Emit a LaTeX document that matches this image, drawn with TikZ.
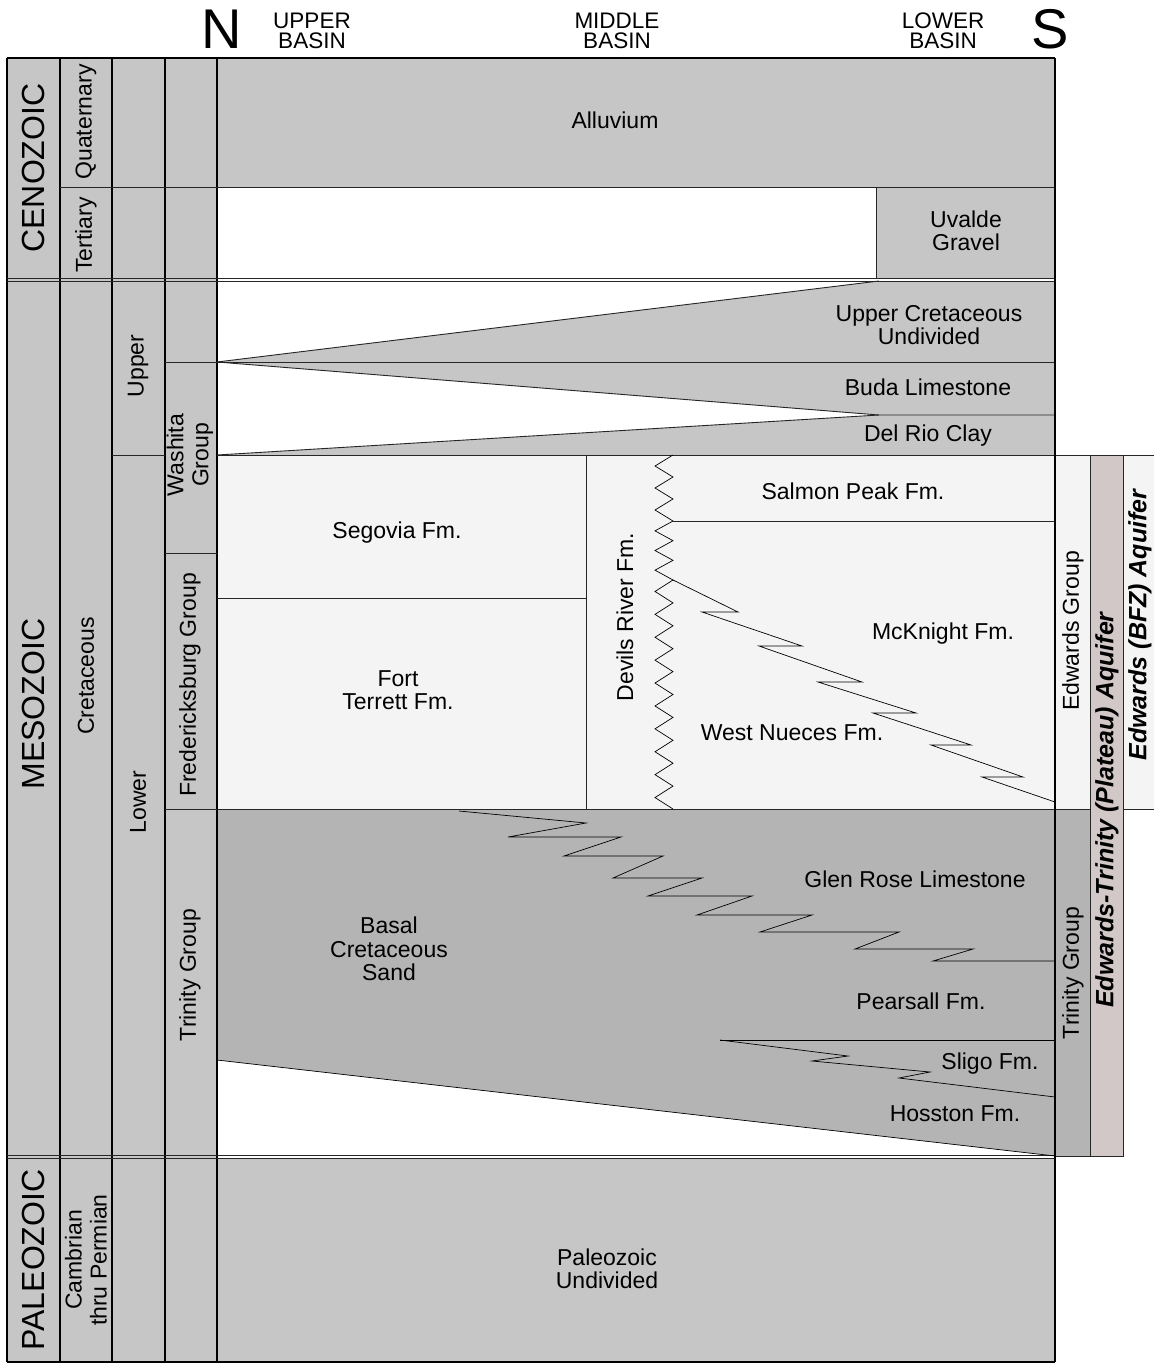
\documentclass[tikz,border=0pt]{standalone}
\usepackage{fontspec}
\setmainfont{Liberation Sans}
\definecolor{lg}{HTML}{C6C6C6}
\definecolor{dg}{HTML}{B4B4B4}
\definecolor{wl}{HTML}{F4F4F4}
\definecolor{pk}{HTML}{D2C8C8}
\tikzset{
  frame/.style={draw=black, line width=1.3pt},
  fine/.style={draw=black!85, line width=0.9pt},
  lbl/.style={font=\fontsize{23}{23.3}\selectfont, align=center, inner sep=0pt},
  vlbl/.style={font=\fontsize{23}{25}\selectfont, align=center, inner sep=0pt, rotate=90},
  era/.style={font=\fontsize{32}{32}\selectfont, inner sep=0pt, rotate=90},
  aq/.style={font=\fontsize{25}{25}\selectfont\bfseries\itshape, inner sep=0pt, rotate=90},
  hdr/.style={font=\fontsize{22.5}{20.5}\selectfont, align=center, inner sep=0pt},
  compass/.style={font=\fontsize{56}{56}\selectfont, inner sep=0pt},
}
\begin{document}
\begin{tikzpicture}[x=1pt,y=-1pt]
\useasboundingbox[fill=white] (0,0) rectangle (1154,1365);

% ---------- fills ----------
\fill[lg] (7,58) rectangle (217,1362);
\fill[lg] (217,58) rectangle (1055,187);
\fill[lg] (876,187) rectangle (1055,278);
\fill[lg] (217,362) -- (879,281) -- (1055,281) -- (1055,362) -- cycle;
\fill[lg] (217,362) -- (1055,362) -- (1055,415) -- (879,415) -- cycle;
\fill[lg] (217,455) -- (879,415) -- (1055,415) -- (1055,455) -- cycle;
\fill[wl] (217,455) rectangle (1055,809);
\fill[dg] (217,809) -- (1055,809) -- (1055,1156) -- (217,1060) -- cycle;
\fill[lg] (217,1158) rectangle (1055,1362);

% ---------- right columns ----------
\filldraw[fill=wl, fine] (1055,455) rectangle (1090,809);
\filldraw[fill=dg, fine] (1055,809) rectangle (1090,1156);
\filldraw[fill=pk, fine] (1090,455) rectangle (1123,1156);
\fill[wl] (1123,455) rectangle (1154,809);
\draw[fine] (1154,455) -- (1123,455) -- (1123,809) -- (1154,809);

% ---------- column frame ----------
\foreach \x in {7,60,112,217} \draw[frame, line width=1.1pt] (\x,58) -- (\x,1362);
\draw[frame, line width=1.7pt] (165,58) -- (165,1362);
\draw[frame] (7,58) -- (1055,58);
\draw[frame] (7,1362) -- (1055,1362);
\draw[fine] (60,187) -- (1055,187);
\draw[fine] (7,278) -- (1055,278);
\draw[fine] (7,281) -- (1055,281);
\draw[fine] (7,1155) -- (1055,1155);
\draw[fine] (7,1158) -- (1055,1158);
\draw[fine] (165,362) -- (217,362);
\draw[fine] (112,455) -- (165,455);
\draw[fine] (165,553) -- (217,553);
\draw[fine] (165,809) -- (217,809);

% ---------- formation boundaries ----------
\draw[fine] (876,187) -- (876,278);
\draw[fine] (217,362) -- (879,281);
\draw[fine] (217,362) -- (1055,362);
\draw[fine] (217,362) -- (879,415) -- (1055,415);
\draw[fine] (217,455) -- (879,415);
\draw[fine] (217,455) -- (1055,455);
\draw[fine] (217,598) -- (586,598);
\draw[fine] (586,455) -- (586,809);
\draw[fine] (217,809) -- (1055,809);
% Devils River zigzag
\draw[line width=0.7pt] (673,455)
  foreach \i in {1,...,3} { -- (655,{455+22*\i-11}) -- (673,{455+22*\i}) }
  foreach \i in {1,...,3} { -- (655,{521+19.67*\i-9.83}) -- (673,{521+19.67*\i}) }
  foreach \i in {1,...,10} { -- (655,{580+22.9*\i-11.45}) -- (673,{580+22.9*\i}) };
\draw[fine] (673,521) -- (1055,521);
% McKnight / West Nueces
\draw[line width=0.7pt] (673,580) -- (738,612) -- (702,612) -- (802,646) -- (759,646)
  -- (862,682) -- (818,682) -- (916,713) -- (873,713) -- (971,745) -- (931,745)
  -- (1023,777) -- (982,777) -- (1055,802);
% Glen Rose / Basal sand
\draw[line width=0.7pt] (459,811) -- (586,823) -- (508,837) -- (621,837) -- (564,856)
  -- (663,856) -- (613,878) -- (702,878) -- (648,896) -- (752,896) -- (697,915)
  -- (812,915) -- (760,932) -- (899,932) -- (855,949) -- (973,949) -- (933,961) -- (1055,961);
% Pearsall / Sligo
\draw[line width=0.7pt] (720,1040) -- (1055,1040);
\draw[line width=0.7pt] (720,1040) -- (848,1056) -- (812,1061) -- (930,1072) -- (899,1078) -- (1055,1097);
% Hosston base
\draw[line width=0.7pt] (217,1060) -- (1055,1156);
% main right border
\draw[frame, line width=1.7pt] (1055,58) -- (1055,1362);

% ---------- header ----------
\node[compass] (north) at (222,29) {N};
\node[compass] (south) at (1050,29) {S};
\node[hdr] (upper) at (312,31) {UPPER\\BASIN};
\node[hdr] (middle) at (617,31) {MIDDLE\\BASIN};
\node[hdr] (lower) at (943,31) {LOWER\\BASIN};

% ---------- time columns ----------
\node[era] (ceno) at (33,168) {CENOZOIC};
\node[era] (meso) at (33,704) {MESOZOIC};
\node[era] (paleo) at (33,1260) {PALEOZOIC};
\node[vlbl] (quat) at (86,122) {Quaternary};
\node[vlbl] (tert) at (86,235) {Tertiary};
\node[vlbl] (cret) at (86,676) {Cretaceous};
\node[vlbl] (camb) at (86,1260) {Cambrian\\thru Permian};
\node[vlbl] (uppc) at (138,366) {Upper};
\node[vlbl] (lowc) at (138,802) {Lower};
\node[vlbl] (wash) at (190,455) {Washita\\Group};
\node[vlbl] (fred) at (190,685) {Fredericksburg Group};
\node[vlbl] (trin) at (190,975) {Trinity Group};

% ---------- formations ----------
\node[lbl] (alluv) at (615,120) {Alluvium};
\node[lbl] (uvalde) at (966,231) {Uvalde\\Gravel};
\node[lbl] (ucu) at (929,325) {Upper Cretaceous\\Undivided};
\node[lbl] (buda) at (928,387) {Buda Limestone};
\node[lbl] (delrio) at (928,436) {Del Rio Clay};
\node[lbl] (segovia) at (397,533) {Segovia Fm.};
\node[lbl] (fort) at (398,690) {Fort\\Terrett Fm.};
\node[vlbl] (devils) at (625,617) {Devils River Fm.};
\node[lbl] (salmon) at (853,491) {Salmon Peak Fm.};
\node[lbl] (mck) at (943,634) {McKnight Fm.};
\node[lbl] (wn) at (792,733) {West Nueces Fm.};
\node[lbl] (basal) at (389,949) {Basal\\Cretaceous\\Sand};
\node[lbl] (glen) at (915,879) {Glen Rose Limestone};
\node[lbl] (pears) at (921,1001) {Pearsall Fm.};
\node[lbl] (sligo) at (990,1064) {Sligo Fm.};
\node[lbl] (hoss) at (955,1114) {Hosston Fm.};
\node[lbl] (paleoU) at (607,1269) {Paleozoic\\Undivided};

% ---------- right labels ----------
\node[vlbl] (edg) at (1073,631) {Edwards Group};
\node[vlbl] (trg) at (1073,973) {Trinity Group};
\node[aq] (etp) at (1107,810) {Edwards-Trinity (Plateau) Aquifer};
\node[aq] (bfz) at (1140,625) {Edwards (BFZ) Aquifer};
\end{tikzpicture}
\end{document}
